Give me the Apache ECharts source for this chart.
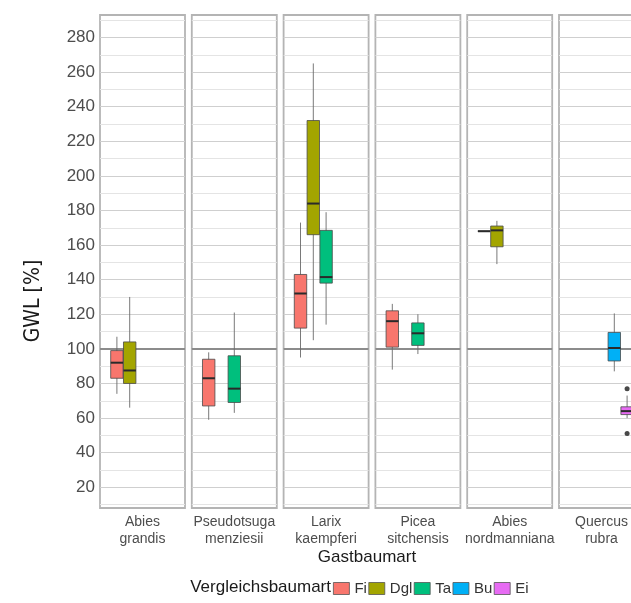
<!DOCTYPE html>
<html><head><meta charset="utf-8">
<script src="https://cdn.jsdelivr.net/npm/echarts@6/dist/echarts.min.js"></script>
<style>html,body{margin:0;padding:0;background:#fff}#c{width:631px;height:603px}</style>
</head><body><div id="c"></div>
<script>
// ---------------- data ----------------
const panelNames = ['Abies\ngrandis', 'Pseudotsuga\nmenziesii', 'Larix\nkaempferi', 'Picea\nsitchensis', 'Abies\nnordmanniana', 'Quercus\nrubra'];
const groupNames = ['Fi', 'Dgl', 'Ta', 'Bu', 'Ei'];
const groupColors = ['#F8766D', '#A3A500', '#00BF7D', '#00B0F6', '#E76BF3'];
// each row: [panelIndex, min, Q1, median, Q3, max]
const fiStats  = [[0, 74, 83, 92, 99, 107], [1, 59, 67, 83, 94, 98], [2, 95, 112, 132, 143, 173], [3, 88, 101, 116, 122, 126], [4, 168, 168, 168, 168, 168]];
const dglStats = [[0, 66, 80, 87.5, 104, 130], [2, 105, 166, 184, 232, 265], [4, 149, 159, 168.5, 171, 174]];
const taStats  = [[1, 63, 69, 77, 96, 121], [2, 114, 138, 141.5, 168.5, 179], [3, 97, 102, 109, 115, 120]];
const buStats  = [[5, 87, 93, 100.5, 109.5, 120.5]];
const eiStats  = [[5, 60, 62, 64, 66.5, 73]];
const eiOutliers = [[5, 77], [5, 51]];   // [panelIndex, value]
const yMajorTicks = [20, 40, 60, 80, 100, 120, 140, 160, 180, 200, 220, 240, 260, 280];
const yMinorTicks = [10, 30, 50, 70, 90, 110, 130, 150, 170, 190, 210, 230, 250, 270, 290];
const refLineValue = 100;
const yMin = 8, yMax = 293;
const allStats = [fiStats, dglStats, taStats, buStats, eiStats];

// ---------------- layout ----------------
const FONT = "'Liberation Sans', Arial, sans-serif";
const panelW = 85, panelStep = 91.8, panelLeft0 = 100, panelTop = 15, panelH = 493;
const slotPx = 12.8;
const xHalf = (panelW / 2) / slotPx;

const grids = [], xAxes = [], yAxes = [], series = [];
panelNames.forEach((name, i) => {
  grids.push({
    left: panelLeft0 + i * panelStep, top: panelTop, width: panelW, height: panelH,
    show: true, backgroundColor: '#fff', borderColor: '#b4b4b4', borderWidth: 1.8,
    containLabel: false, outerBoundsMode: 'none'
  });
  xAxes.push({
    type: 'value', gridIndex: i, min: 2 - xHalf, max: 2 + xHalf,
    axisLine: {show: false}, axisTick: {show: false}, axisLabel: {show: false}, splitLine: {show: false},
    name: name, nameLocation: 'middle', nameGap: 5,
    nameTextStyle: {fontSize: 14, color: '#4d4d4d', lineHeight: 17.6, fontFamily: FONT, verticalAlign: 'top'}
  });
  yAxes.push({
    type: 'value', gridIndex: i, min: yMin, max: yMax,
    axisLine: {show: false}, splitLine: {show: false},
    axisTick: i === 0 ? {show: true, customValues: yMajorTicks, length: 4, lineStyle: {color: '#8a8a8a'}} : {show: false},
    axisLabel: i === 0 ? {show: true, customValues: yMajorTicks, margin: 5, fontSize: 17, color: '#4d4d4d', fontFamily: FONT} : {show: false}
  });
  const lines = [];
  yMinorTicks.forEach(v => lines.push({yAxis: v, lineStyle: {color: '#e4e4e4', width: 1, type: 'solid'}}));
  yMajorTicks.forEach(v => lines.push({yAxis: v, lineStyle: {color: '#cfcfcf', width: 1, type: 'solid'}}));
  lines.push({yAxis: refLineValue, lineStyle: {color: '#8c8c8c', width: 2, type: 'solid'}});
  series.push({
    type: 'line', xAxisIndex: i, yAxisIndex: i, data: [], z: 1, silent: true,
    markLine: {symbol: ['none', 'none'], silent: true, label: {show: false}, animation: false, data: lines}
  });
});

function renderBox(params, api) {
  const x = api.value(0);
  const pMin = api.coord([x, api.value(1)]);
  const pQ1 = api.coord([x, api.value(2)]);
  const pMed = api.coord([x, api.value(3)]);
  const pQ3 = api.coord([x, api.value(4)]);
  const pMax = api.coord([x, api.value(5)]);
  const bw = api.size([1, 0])[0] * 0.97;
  const fill = api.visual('color');
  return {
    type: 'group',
    children: [
      {type: 'line', shape: {x1: pMin[0], y1: pMin[1], x2: pMax[0], y2: pMax[1]}, style: {stroke: '#6a6a6a', lineWidth: 0.9}},
      {type: 'rect', shape: {x: pQ3[0] - bw / 2, y: pQ3[1], width: bw, height: Math.max(pQ1[1] - pQ3[1], 0)},
        style: {fill: fill, stroke: '#4a4a4a', lineWidth: 0.8}},
      {type: 'line', shape: {x1: pMed[0] - bw / 2, y1: pMed[1], x2: pMed[0] + bw / 2, y2: pMed[1]}, style: {stroke: '#2a2a2a', lineWidth: 2}}
    ]
  };
}

allStats.forEach((rows, g) => {
  rows.forEach(r => {
    series.push({
      type: 'custom', name: groupNames[g], xAxisIndex: r[0], yAxisIndex: r[0], z: 5,
      itemStyle: {color: groupColors[g]},
      encode: {x: 0, y: [1, 2, 3, 4, 5]},
      renderItem: renderBox,
      data: [[g, r[1], r[2], r[3], r[4], r[5]]]
    });
  });
});

series.push({
  type: 'scatter', xAxisIndex: 5, yAxisIndex: 5, z: 6, symbolSize: 5,
  itemStyle: {color: '#1a1a1a'},
  data: eiOutliers.map(o => [4, o[1]])
});

const option = {
  animation: false,
  backgroundColor: '#fff',
  grid: grids, xAxis: xAxes, yAxis: yAxes, series: series,
  legend: {
    data: groupNames, left: 333, top: 581, itemWidth: 16, itemHeight: 12, itemGap: 1.5,
    icon: 'rect', padding: 0, selectedMode: false,
    itemStyle: {borderColor: '#555', borderWidth: 0.8},
    textStyle: {fontSize: 15, color: '#333', fontFamily: FONT}
  },
  graphic: [
    {type: 'text', x: 34, y: 301, rotation: Math.PI / 2,
      style: {text: 'GWL [%]', font: "21px 'Liberation Sans Narrow', 'DejaVu Sans Condensed', sans-serif", fill: '#1a1a1a',
        textAlign: 'center', textVerticalAlign: 'middle', align: 'center', verticalAlign: 'middle'}},
    {type: 'text', x: 367, y: 557,
      style: {text: 'Gastbaumart', font: "17px " + FONT, fill: '#1a1a1a',
        textAlign: 'center', textVerticalAlign: 'middle', align: 'center', verticalAlign: 'middle'}},
    {type: 'text', x: 331, y: 587,
      style: {text: 'Vergleichsbaumart', font: "17px " + FONT, fill: '#1a1a1a',
        textAlign: 'right', textVerticalAlign: 'middle', align: 'right', verticalAlign: 'middle'}}
  ]
};
const chart = echarts.init(document.getElementById('c'), null, {renderer: 'canvas'});
chart.setOption(option);
</script></body></html>
